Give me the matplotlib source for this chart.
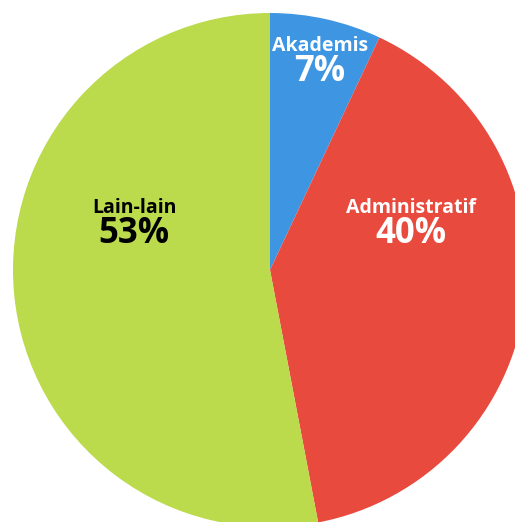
import matplotlib.pyplot as plt

labels = ['Akademis', 'Administratif', 'Lain-lain']
values = [7, 40, 53]
colors = ['#3e96e2', '#e84a3e', '#bbda4c']
text_colors = ['white', 'white', 'black']
# label positions in image pixels (x, y from top)
label_pos = [(320, 46), (411, 208), (134, 208)]

W, H = 515, 522
fig = plt.figure(figsize=(W / 100, H / 100), dpi=100)
ax = fig.add_axes([0, 0, 1, 1])

cx, cy, r = 270, H - 270, 257
ax.pie(values, colors=colors, startangle=90, counterclock=False,
       center=(cx, cy), radius=r, frame=True,
       wedgeprops=dict(linewidth=0))
ax.set_xlim(0, W)
ax.set_ylim(0, H)
ax.axis('off')

for lab, val, tc, (x, y) in zip(labels, values, text_colors, label_pos):
    ax.text(x, H - y, lab, ha='center', va='center', color=tc,
            fontsize=14, fontweight='bold', family='Open Sans')
    ax.text(x, H - y - 26, '%d%%' % val, ha='center', va='center', color=tc,
            fontsize=25, fontweight='bold', family='Open Sans')

fig.savefig('out.png', dpi=100)
